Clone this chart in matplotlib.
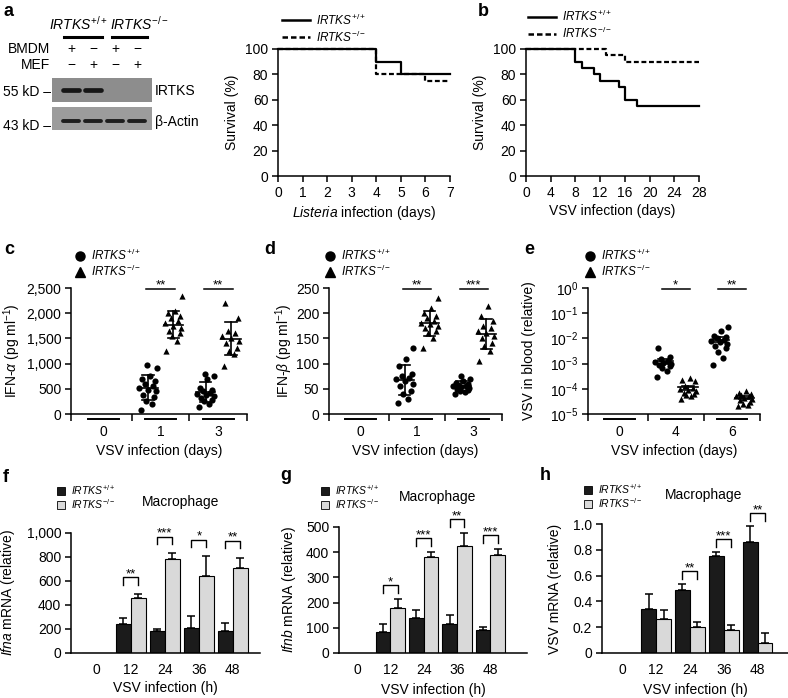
import numpy as np
import matplotlib
matplotlib.use('Agg')
import matplotlib.pyplot as plt
from matplotlib.lines import Line2D
from matplotlib.patches import Rectangle, Patch
from matplotlib.ticker import FuncFormatter, LogLocator, NullLocator, LogFormatterMathtext

plt.rcParams['font.family'] = ['Liberation Sans', 'DejaVu Sans']
plt.rcParams['mathtext.fontset'] = 'custom'
plt.rcParams['mathtext.rm'] = 'Liberation Sans'
plt.rcParams['mathtext.it'] = 'Liberation Sans:italic'
plt.rcParams['mathtext.bf'] = 'Liberation Sans:bold'
plt.rcParams['font.size'] = 10
plt.rcParams['axes.linewidth'] = 1.1
plt.rcParams['xtick.major.width'] = 1.1
plt.rcParams['ytick.major.width'] = 1.1
plt.rcParams['xtick.major.size'] = 4.5
plt.rcParams['ytick.major.size'] = 4.5

W, H = 788, 698
WT = r'$\it{IRTKS}^{+/+}$'
KO = r'$\it{IRTKS}^{-/-}$'

# ----------------------------------- Дані -----------------------------------
# a: western blot
BMDM = ['+', '\u2212', '+', '\u2212']
MEF = ['\u2212', '+', '\u2212', '+']
IRTKS_BAND = [1, 1, 0, 0]
ACTIN_BAND = [1, 1, 1, 1]

# a: Listeria survival
LIS_DAYS_WT = [0, 4, 5, 7]
LIS_SURV_WT = [100, 90, 80, 80]
LIS_DAYS_KO = [0, 4, 6, 7]
LIS_SURV_KO = [100, 80, 75, 75]

# b: VSV survival
VSV_DAYS_WT = [0, 8, 9, 11, 12, 15, 16, 18, 28]
VSV_SURV_WT = [100, 90, 85, 80, 75, 70, 60, 55, 55]
VSV_DAYS_KO = [0, 13, 16, 28]
VSV_SURV_KO = [100, 95, 90, 90]

# c: IFN-alpha (pg/ml), day 0 / 1 / 3
DAYS_CD = ['0', '1', '3']
IFNA_WT = [[],
           [80, 200, 250, 330, 380, 450, 480, 520, 560, 600, 650, 700, 750, 920, 980],
           [130, 200, 250, 280, 320, 350, 380, 400, 420, 450, 480, 520, 700, 760, 800]]
IFNA_KO = [[],
           [1250, 1450, 1550, 1600, 1650, 1700, 1750, 1800, 1850, 1900, 1950, 2000, 2050, 2350],
           [950, 1200, 1250, 1300, 1400, 1450, 1500, 1550, 1600, 1650, 1900, 2200]]
IFNA_STARS = ['', '**', '**']

# d: IFN-beta (pg/ml)
IFNB_WT = [[],
           [22, 30, 40, 45, 55, 60, 65, 70, 72, 75, 80, 95, 110, 130],
           [40, 43, 46, 48, 50, 52, 54, 55, 56, 58, 60, 62, 65, 70, 75]]
IFNB_KO = [[],
           [130, 150, 160, 165, 170, 175, 178, 180, 185, 190, 195, 200, 210, 230],
           [105, 125, 135, 140, 150, 155, 160, 165, 170, 175, 185, 195, 215]]
IFNB_STARS = ['', '**', '***']

# e: VSV in blood (relative), day 0 / 4 / 6
DAYS_E = ['0', '4', '6']
BLOOD_WT = [[],
            [3e-4, 5e-4, 6.7e-4, 8e-4, 9e-4, 1e-3, 1.1e-3, 1.2e-3, 1.3e-3, 1.5e-3, 1.8e-3, 4.2e-3],
            [9e-4, 1.7e-3, 3e-3, 4e-3, 5e-3, 6e-3, 7e-3, 8e-3, 9e-3, 1e-2, 1.1e-2, 1.3e-2, 1.9e-2, 2.9e-2]]
BLOOD_KO = [[],
            [4e-5, 5e-5, 5.5e-5, 6e-5, 7e-5, 8e-5, 9e-5, 1e-4, 1.1e-4, 1.3e-4, 2e-4, 2.3e-4, 2.6e-4],
            [2e-5, 2.2e-5, 2.5e-5, 3e-5, 3.5e-5, 4e-5, 4.5e-5, 5e-5, 5e-5, 5.5e-5, 6e-5, 7e-5, 8.5e-5]]
BLOOD_STARS = ['', '*', '**']

# f-h: macrophage qPCR, 0 / 12 / 24 / 36 / 48 h
HOURS = ['0', '12', '24', '36', '48']
IFNA_MRNA_WT = [0, 240, 180, 205, 180]
IFNA_MRNA_WT_ERR = [0, 50, 22, 105, 72]
IFNA_MRNA_KO = [0, 455, 780, 640, 705]
IFNA_MRNA_KO_ERR = [0, 35, 50, 165, 90]
IFNA_MRNA_STARS = ['', '**', '***', '*', '**']

IFNB_MRNA_WT = [0, 85, 140, 115, 90]
IFNB_MRNA_WT_ERR = [0, 30, 30, 35, 12]
IFNB_MRNA_KO = [0, 180, 380, 425, 388]
IFNB_MRNA_KO_ERR = [0, 35, 20, 50, 25]
IFNB_MRNA_STARS = ['', '*', '***', '**', '***']

VSV_MRNA_WT = [0, 0.34, 0.49, 0.75, 0.86]
VSV_MRNA_WT_ERR = [0, 0.12, 0.045, 0.03, 0.125]
VSV_MRNA_KO = [0, 0.26, 0.20, 0.18, 0.08]
VSV_MRNA_KO_ERR = [0, 0.07, 0.04, 0.035, 0.075]
VSV_MRNA_STARS = ['', '', '**', '***', '**']

# горизонтальний розкид точок
JITTER = [-0.12, 0.06, -0.03, 0.11, -0.08, 0.14, 0.0, -0.15, 0.08, -0.05, 0.12, -0.1, 0.03, 0.15, -0.01, 0.09]


# ----------------------------------- Допоміжні функції -----------------------------------
def px_axes(fig, left, top, right, bottom):
    return fig.add_axes([left / W, 1 - bottom / H, (right - left) / W, (bottom - top) / H])


def clean(ax):
    ax.spines['top'].set_visible(False)
    ax.spines['right'].set_visible(False)
    ax.tick_params(direction='out', labelsize=10, pad=2.5)


def put_legend(ax, handles, labels, x, y, **kw):
    # x, y - лівий край і центр легенди в пікселях картинки
    opts = dict(loc='center left', bbox_to_anchor=(x, y), bbox_transform=ov.transData,
                frameon=False, borderpad=0, borderaxespad=0)
    opts.update(kw)
    ax.legend(handles, labels, **opts)


def survival_panel(ax, dw, sw, dk, sk, xmax, xstep, xlabel, leg_x, leg_y):
    clean(ax)
    ax.step(dw, sw, where='post', color='k', lw=1.6, clip_on=False)
    ax.step(dk, sk, where='post', color='k', lw=1.6, ls=(0, (2.2, 1.2)), clip_on=False)
    ax.set_xlim(0, xmax)
    ax.set_ylim(0, 100)
    ax.set_xticks(np.arange(0, xmax + 1, xstep))
    ax.set_yticks(np.arange(0, 101, 20))
    ax.set_ylabel('Survival (%)')
    ax.yaxis.set_label_coords(-0.225, 0.5)
    ax.set_xlabel(xlabel)
    ax.xaxis.set_label_coords(0.5, -0.22)
    handles = [Line2D([], [], color='k', lw=1.8),
               Line2D([], [], color='k', lw=1.8, ls=(0, (2.2, 1.2)))]
    put_legend(ax, handles, [WT, KO], leg_x, leg_y, fontsize=8.5, handlelength=2.4,
               handletextpad=0.5, labelspacing=0.15)


def dot_panel(ax, cats, wt, ko, stars, err, leg_x):
    clean(ax)
    x = np.arange(len(cats))
    for i in x:
        ax.plot([i - 0.27, i + 0.27], [-0.04, -0.04], transform=ax.get_xaxis_transform(),
                color='k', lw=1.4, clip_on=False)
        for vals, off, mk in ((wt[i], -0.22, 'o'), (ko[i], 0.22, '^')):
            if not len(vals):
                continue
            v = np.array(vals, dtype=float)
            c = i + off
            ax.scatter(c + np.array(JITTER[:len(v)]), v, marker=mk, s=20, color='k', lw=0,
                       zorder=3, clip_on=False)
            m = v.mean()
            e = v.std(ddof=1)
            if err == 'sem':
                e = e / np.sqrt(len(v))
            ax.plot([c - 0.17, c + 0.17], [m, m], color='k', lw=1.2, zorder=4)
            ax.plot([c, c], [m - e, m + e], color='k', lw=1.2, zorder=4)
            for y in (m - e, m + e):
                ax.plot([c - 0.1, c + 0.1], [y, y], color='k', lw=1.2, zorder=4)
        if stars[i]:
            ax.plot([i - 0.25, i + 0.25], [0.99, 0.99], transform=ax.get_xaxis_transform(),
                    color='k', lw=1.1, clip_on=False)
            ax.text(i, 0.975, stars[i], transform=ax.get_xaxis_transform(), ha='center',
                    va='bottom', fontsize=9.5)
    ax.set_xlim(-0.56, len(cats) - 0.5)
    ax.set_xticks([-0.56, 0.5, 1.5, 2.5])
    ax.set_xticklabels([])
    ax.set_xticks(x, minor=True)
    ax.set_xticklabels(cats, minor=True)
    ax.tick_params(axis='x', which='minor', length=0, pad=8, labelsize=10)
    ax.tick_params(axis='x', which='major', length=5)
    ax.set_xlabel('VSV infection (days)')
    ax.xaxis.set_label_coords(0.5, -0.235)
    handles = [Line2D([], [], marker='o', ls='none', color='k', ms=6.5),
               Line2D([], [], marker='^', ls='none', color='k', ms=6.5)]
    put_legend(ax, handles, [WT, KO], leg_x, 263.5, fontsize=8.5, handlelength=1.0,
               handletextpad=0.4, labelspacing=0.12)


def bar_panel(ax, wt, wt_err, ko, ko_err, stars, ymax, ystep, fmt, xlim, frac, ylabel, lab_x,
              leg_x, leg_y):
    clean(ax)
    x = np.arange(len(HOURS))
    wt = np.array(wt, dtype=float)
    ko = np.array(ko, dtype=float)
    wt_err = np.array(wt_err, dtype=float)
    ko_err = np.array(ko_err, dtype=float)
    ax.bar(x - 0.22, wt, 0.44, color='#1b1b1b', edgecolor='k', lw=0.8, zorder=2)
    ax.bar(x + 0.22, ko, 0.44, color='#d9d9d9', edgecolor='k', lw=0.8, zorder=2)
    show = wt > 0
    ax.errorbar(x[show] - 0.22, wt[show], yerr=[np.zeros(show.sum()), wt_err[show]], fmt='none',
                ecolor='k', elinewidth=1.1, capsize=3, capthick=1.1, zorder=3)
    ax.errorbar(x[show] + 0.22, ko[show], yerr=[np.zeros(show.sum()), ko_err[show]], fmt='none',
                ecolor='k', elinewidth=1.1, capsize=3, capthick=1.1, zorder=3)
    for i in x:
        if not stars[i]:
            continue
        top = max(wt[i] + wt_err[i], ko[i] + ko_err[i]) + frac * ymax
        leg = 0.06 * ymax
        ax.plot([i - 0.22, i - 0.22, i + 0.22, i + 0.22], [top - leg, top, top, top - leg],
                color='k', lw=1.0, clip_on=False)
        ax.text(i, top - 0.025 * ymax, stars[i], ha='center', va='bottom', fontsize=9.5)
    ax.set_xlim(*xlim)
    ax.set_ylim(0, ymax)
    ax.set_xticks(x)
    ax.set_xticklabels(HOURS)
    ax.tick_params(axis='x', length=0, pad=7)
    ax.set_yticks(np.arange(0, ymax + ystep / 2, ystep))
    ax.yaxis.set_major_formatter(FuncFormatter(fmt))
    ax.set_xlabel('VSV infection (h)')
    ax.xaxis.set_label_coords(0.5, -0.235)
    ax.set_ylabel(ylabel)
    ax.yaxis.set_label_coords(lab_x, 0.5)
    handles = [Patch(facecolor='#1b1b1b', edgecolor='k', lw=0.6),
               Patch(facecolor='#d9d9d9', edgecolor='k', lw=0.6)]
    put_legend(ax, handles, [WT, KO], leg_x, leg_y, fontsize=7.5, handlelength=0.8,
               handleheight=0.8, handletextpad=0.5, labelspacing=0.0)


# ----------------------------------- Побудова -----------------------------------
fig = plt.figure(figsize=(W / 100, H / 100), dpi=100)

# шар для блоту і літер панелей (пікселі картинки)
ov = fig.add_axes([0, 0, 1, 1])
ov.set_xlim(0, W)
ov.set_ylim(H, 0)
ov.axis('off')

for txt, (lx, ly) in zip('abcdefgh', [(4, 12), (478, 12), (4, 249), (264, 249), (524, 249),
                                     (3, 477), (280, 476), (540, 476)]):
    ov.text(lx, ly, txt, fontsize=13, fontweight='bold', ha='left', va='center')

# western blot
lane_x = 104 + (np.arange(4) - 1.5) * 22
ov.add_patch(Rectangle((52, 78), 100, 24, facecolor='#8d8d8d', edgecolor='none'))
ov.add_patch(Rectangle((52, 107), 100, 23, facecolor='#9c9c9c', edgecolor='none'))
for lx, on1, on2 in zip(lane_x, IRTKS_BAND, ACTIN_BAND):
    if on1:
        ov.plot([lx - 8, lx + 8], [90, 90], color='#161616', lw=3.4, solid_capstyle='round')
    if on2:
        ov.plot([lx - 8, lx + 8], [121, 121], color='#1e1e1e', lw=2.8, solid_capstyle='round')
for lx, b, m in zip(lane_x, BMDM, MEF):
    ov.text(lx, 49, b, ha='center', va='center', fontsize=10)
    ov.text(lx, 65, m, ha='center', va='center', fontsize=10)
ov.text(50, 49, 'BMDM', ha='right', va='center', fontsize=10)
ov.text(50, 65, 'MEF', ha='right', va='center', fontsize=10)
ov.text(lane_x[:2].mean() - 3, 24, WT, ha='center', va='center', fontsize=10)
ov.text(lane_x[2:].mean() + 14, 24, KO, ha='center', va='center', fontsize=10)
ov.plot([lane_x[0] - 7, lane_x[1] + 9], [37, 37], color='k', lw=2.2)
ov.plot([lane_x[2] - 3, lane_x[3] + 10], [37, 37], color='k', lw=2.2)
ov.text(3, 92, '55 kD \u2013', ha='left', va='center', fontsize=10)
ov.text(3, 126, '43 kD \u2013', ha='left', va='center', fontsize=10)
ov.text(155, 91, 'IRTKS', ha='left', va='center', fontsize=10)
ov.text(155, 122, '\u03b2-Actin', ha='left', va='center', fontsize=10)

# a, b: виживання
ax_a = px_axes(fig, 278, 49, 450, 176)
survival_panel(ax_a, LIS_DAYS_WT, LIS_SURV_WT, LIS_DAYS_KO, LIS_SURV_KO, 7, 1,
               r'$\it{Listeria}$ infection (days)', 282, 28.5)
ax_b = px_axes(fig, 526, 49, 699, 176)
survival_panel(ax_b, VSV_DAYS_WT, VSV_SURV_WT, VSV_DAYS_KO, VSV_SURV_KO, 28, 4,
               'VSV infection (days)', 528, 25)

# c: IFN-alpha
ax_c = px_axes(fig, 71, 288, 247, 414)
dot_panel(ax_c, DAYS_CD, IFNA_WT, IFNA_KO, IFNA_STARS, 'sd', 74)
ax_c.set_ylim(0, 2500)
ax_c.set_yticks(np.arange(0, 2501, 500))
ax_c.yaxis.set_major_formatter(FuncFormatter(lambda v, p: f'{v:,.0f}'))
ax_c.set_ylabel(r'IFN-$\alpha$ (pg ml$^{-1}$)')
ax_c.yaxis.set_label_coords(-0.27, 0.5)

# d: IFN-beta
ax_d = px_axes(fig, 329, 288, 502, 414)
dot_panel(ax_d, DAYS_CD, IFNB_WT, IFNB_KO, IFNB_STARS, 'sd', 324)
ax_d.set_ylim(0, 250)
ax_d.set_yticks(np.arange(0, 251, 50))
ax_d.set_ylabel(r'IFN-$\beta$ (pg ml$^{-1}$)')
ax_d.yaxis.set_label_coords(-0.195, 0.5)

# e: VSV in blood
ax_e = px_axes(fig, 588, 288, 760, 414)
ax_e.set_yscale('log')
dot_panel(ax_e, DAYS_E, BLOOD_WT, BLOOD_KO, BLOOD_STARS, 'sem', 584)
ax_e.set_ylim(1e-5, 1)
ax_e.yaxis.set_major_locator(LogLocator(base=10, numticks=10))
ax_e.yaxis.set_minor_locator(NullLocator())
ax_e.yaxis.set_major_formatter(LogFormatterMathtext())
ax_e.set_ylabel('VSV in blood (relative)')
ax_e.yaxis.set_label_coords(-0.3, 0.5)

# f-h: макрофаги
ax_f = px_axes(fig, 71, 533, 260, 653)
bar_panel(ax_f, IFNA_MRNA_WT, IFNA_MRNA_WT_ERR, IFNA_MRNA_KO, IFNA_MRNA_KO_ERR, IFNA_MRNA_STARS,
          1000, 200, lambda v, p: f'{v:,.0f}', (-0.76, 4.8), 0.14,
          r'$\it{Ifna}$ mRNA (relative)', -0.285, 57, 497)
ax_g = px_axes(fig, 339, 527, 527, 653)
bar_panel(ax_g, IFNB_MRNA_WT, IFNB_MRNA_WT_ERR, IFNB_MRNA_KO, IFNB_MRNA_KO_ERR, IFNB_MRNA_STARS,
          500, 100, lambda v, p: f'{v:.0f}', (-0.54, 5.1), 0.11,
          r'$\it{Ifnb}$ mRNA (relative)', -0.22, 321, 497)
ax_h = px_axes(fig, 602, 524, 788, 653)
bar_panel(ax_h, VSV_MRNA_WT, VSV_MRNA_WT_ERR, VSV_MRNA_KO, VSV_MRNA_KO_ERR, VSV_MRNA_STARS,
          1.0, 0.2, lambda v, p: '0' if v == 0 else f'{v:.1f}', (-0.6, 4.9), 0.1,
          'VSV mRNA (relative)', -0.215, 584, 496)

for mx, my in ((181, 502), (438, 497), (704, 495)):
    ov.text(mx, my, 'Macrophage', ha='center', va='center', fontsize=10)

fig.savefig('out.png', dpi=100)
